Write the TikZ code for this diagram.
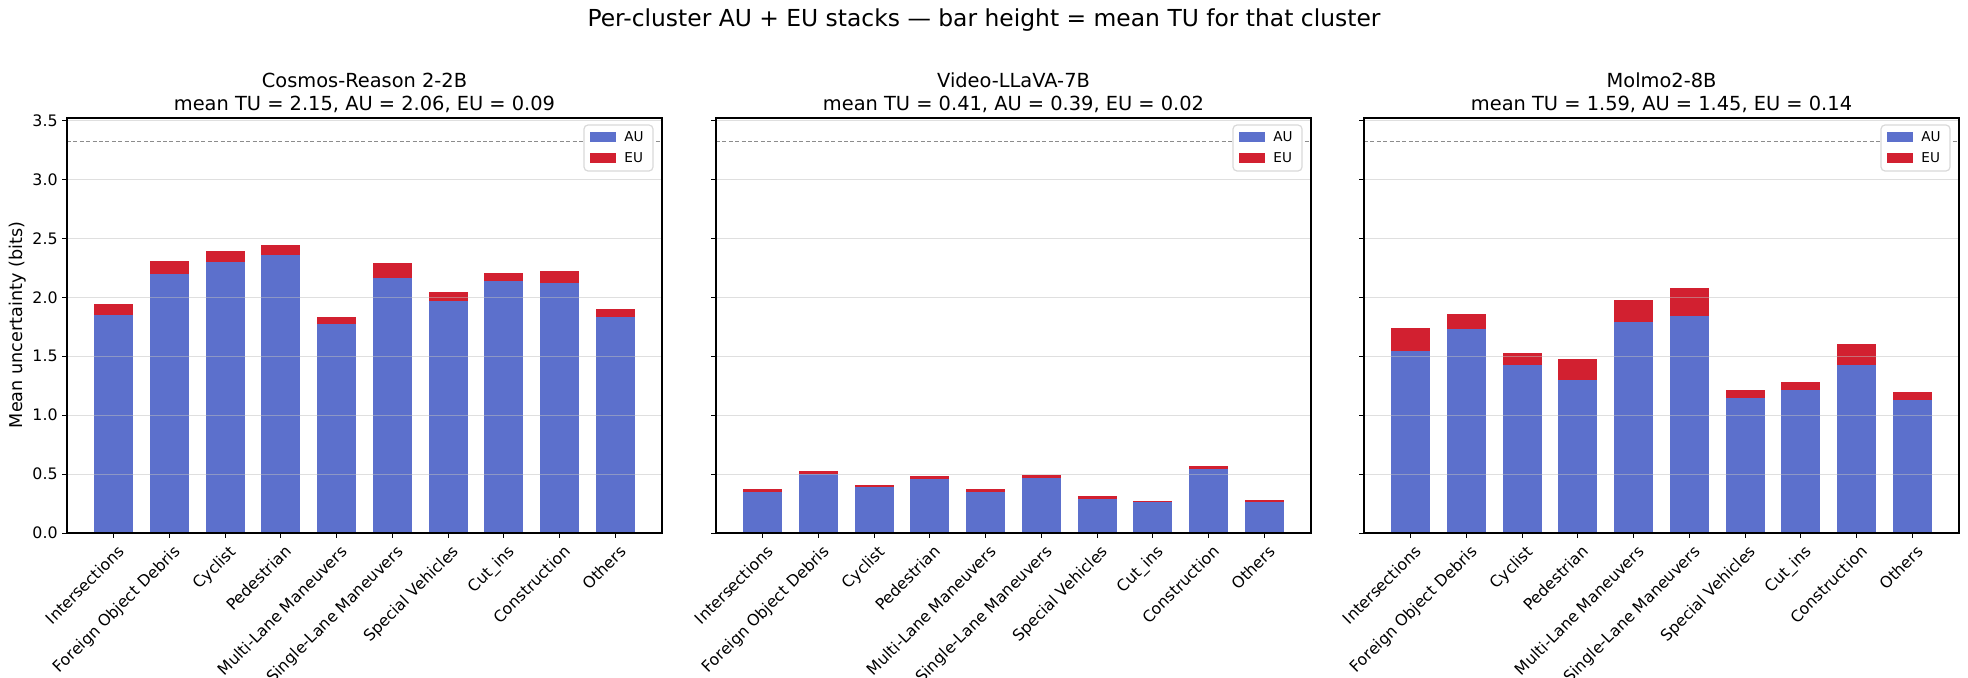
\documentclass[tikz,border=0pt]{standalone}
\usepackage{fontspec}
\setmainfont{DejaVu Sans}
\usepackage{tikz}
\definecolor{aublue}{RGB}{92,112,204}
\definecolor{eured}{RGB}{210,32,48}
\begin{document}
\begin{tikzpicture}[x=0.5pt,y=0.5pt,yscale=-1,xscale=1,
    ticklab/.style={font=\fontsize{7.9}{9}\selectfont,inner sep=1pt},
    subtitle/.style={font=\fontsize{9.7}{11.5}\selectfont,align=center},
    legtext/.style={font=\fontsize{6.8}{8}\selectfont,anchor=west,inner sep=0pt},
    gridline/.style={draw=black!12,line width=0.4pt},
    aubar/.style={fill=aublue},
    eubar/.style={fill=eured}]
\useasboundingbox (0,0) rectangle (1968,678);

% Figure title
\node (figtitle) [font=\fontsize{11.7}{14}\selectfont] at (984,20) {Per-cluster AU + EU stacks — bar height = mean TU for that cluster};

% Y axis label and tick labels (first panel only)
\node (ylab) [font=\fontsize{8.8}{10}\selectfont,rotate=90] at (18,325) {Mean uncertainty (bits)};
\foreach \v [count=\k] in {0.0,0.5,1.0,1.5,2.0,2.5,3.0,3.5}
  \node (ytick-\k) [ticklab,anchor=east] at (60,{533-(\k-1)*0.5*117.8}) {\v};

% Panels
\foreach \L/\ttl/\vals [count=\p] in {
    67/{Cosmos-Reason 2-2B\\mean TU = 2.15, AU = 2.06, EU = 0.09}/{1.847/1.940, 2.195/2.306, 2.297/2.391, 2.357/2.442, 1.771/1.830, 2.161/2.289, 1.966/2.042, 2.136/2.204, 2.119/2.221, 1.830/1.898},
    716/{Video-LLaVA-7B\\mean TU = 0.41, AU = 0.39, EU = 0.02}/{0.35/0.37, 0.50/0.53, 0.39/0.41, 0.46/0.48, 0.35/0.37, 0.47/0.49, 0.29/0.31, 0.27/0.275, 0.54/0.57, 0.26/0.28},
    1364/{Molmo2-8B\\mean TU = 1.59, AU = 1.45, EU = 0.14}/{1.541/1.737, 1.728/1.856, 1.422/1.524, 1.303/1.473, 1.788/1.975, 1.839/2.076, 1.150/1.210, 1.210/1.286, 1.422/1.601, 1.133/1.201}} {
  \node (sub-\p) [subtitle] at ({\L+297.5},93) {\ttl};
  % bars
  \foreach \au/\tu [count=\i from 0] in \vals {
    \fill [aubar] ({\L+(0.835+\i)*55.77-19.5},533) rectangle ({\L+(0.835+\i)*55.77+19.5},{533-\au*117.8});
    \fill [eubar] ({\L+(0.835+\i)*55.77-19.5},{533-\au*117.8}) rectangle ({\L+(0.835+\i)*55.77+19.5},{533-\tu*117.8});
  }
  % grid
  \foreach \k in {1,...,7}
    \draw [gridline,draw=black!25,draw opacity=0.5] (\L,{533-\k*0.5*117.8}) -- ({\L+595},{533-\k*0.5*117.8});
  \draw [black!45,dash pattern=on 2pt off 1.2pt,line width=0.4pt] (\L,141.6) -- ({\L+595},141.6);
  % y ticks
  \foreach \k in {0,...,7}
    \draw [line width=0.5pt] ({\L-5},{533-\k*0.5*117.8}) -- (\L,{533-\k*0.5*117.8});
  % x ticks and labels
  \foreach \lab [count=\i from 0] in {Intersections,Foreign Object Debris,Cyclist,Pedestrian,Multi-Lane Maneuvers,Single-Lane Maneuvers,Special Vehicles,Cut\_ins,Construction,Others} {
    \draw [line width=0.5pt] ({\L+(0.835+\i)*55.77},533) -- ({\L+(0.835+\i)*55.77},538);
    \node (xlab-\p-\i) [ticklab,rotate=45,anchor=north east] at ({\L+(0.835+\i)*55.77+3},541) {\lab};
  }
  % frame
  \draw [line width=0.6pt] (\L,118) rectangle ({\L+595},533);
  % legend
  \draw [black!15,fill=white,rounded corners=2pt,line width=0.6pt] ({\L+517},125) rectangle ({\L+586},171);
  \fill [aubar] ({\L+523},132) rectangle ({\L+549},142);
  \fill [eubar] ({\L+523},153) rectangle ({\L+549},163);
  \node (leg-au-\p) [legtext] at ({\L+557},137) {AU};
  \node (leg-eu-\p) [legtext] at ({\L+557},158) {EU};
}

\end{tikzpicture}
\end{document}
